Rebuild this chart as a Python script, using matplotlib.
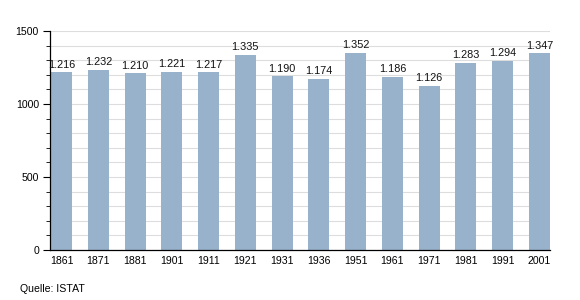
import matplotlib
matplotlib.use("Agg")
import matplotlib.pyplot as plt
from matplotlib.ticker import MultipleLocator

plt.rcParams['font.family'] = ['Liberation Sans', 'DejaVu Sans']

# data
years = ["1861", "1871", "1881", "1901", "1911", "1921", "1931",
         "1936", "1951", "1961", "1971", "1981", "1991", "2001"]
population = [1216, 1232, 1210, 1221, 1217, 1335, 1190,
              1174, 1352, 1186, 1126, 1283, 1294, 1347]
labels = ["1.216", "1.232", "1.210", "1.221", "1.217", "1.335", "1.190",
          "1.174", "1.352", "1.186", "1.126", "1.283", "1.294", "1.347"]

fig = plt.figure(figsize=(5.8, 3.0), dpi=100)
ax = fig.add_axes([0.0862, 0.1667, 0.862, 0.73])

w = 0.57
x = list(range(len(years)))
bars = ax.bar(x, population, width=w, color="#98b2cc", zorder=2)
for xi, v, lab in zip(x, population, labels):
    ax.text(xi, v + 18, lab, ha="center", va="bottom", fontsize=7.8, color="#111111")

ax.set_xlim(-w / 2 - 0.03, len(years) - 1 + w / 2)
ax.set_ylim(0, 1500)
ax.set_xticks(x)
ax.set_xticklabels(years, fontsize=7.6)
ax.tick_params(axis="x", length=0, pad=4)
ax.yaxis.set_major_locator(MultipleLocator(500))
ax.yaxis.set_minor_locator(MultipleLocator(100))
ax.tick_params(axis="y", which="major", length=5, width=0.8, labelsize=7.6, pad=3)
ax.tick_params(axis="y", which="minor", length=3, width=0.6)
ax.grid(axis="y", which="both", color="#dddddd", linewidth=0.8, zorder=0)

for s in ["top", "right"]:
    ax.spines[s].set_visible(False)
ax.spines["left"].set_linewidth(0.9)
ax.spines["bottom"].set_linewidth(0.9)

fig.text(20 / 580, 1 - 289 / 300, "Quelle: ISTAT", fontsize=7.6, va="center")

fig.savefig("out.png", dpi=100)
